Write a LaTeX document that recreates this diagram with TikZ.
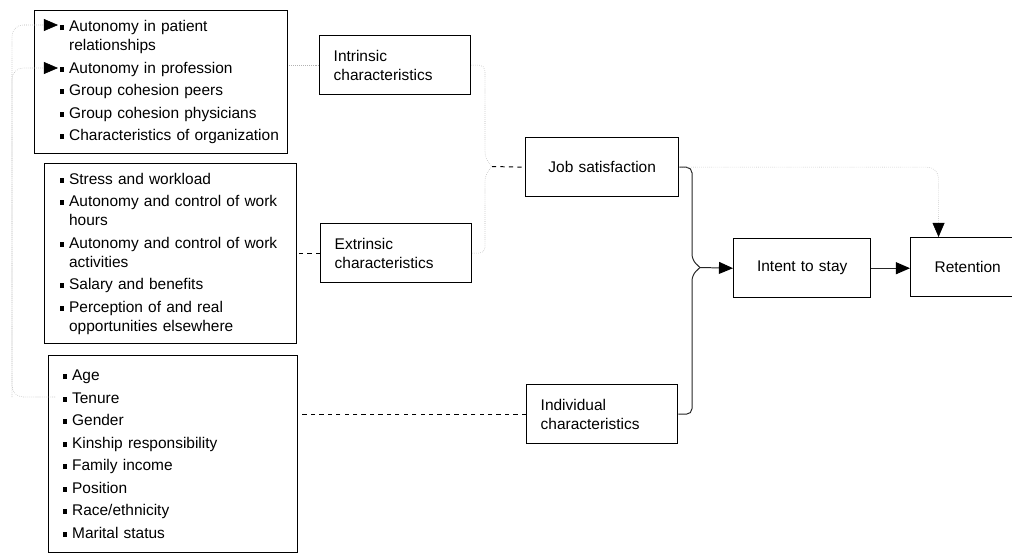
\documentclass[tikz,border=0pt]{standalone}
\usepackage{fontspec}
\setmainfont{Liberation Sans}
\usetikzlibrary{shapes,arrows.meta,positioning}
\newcommand\lbul{\rule[1.2pt]{3.4pt}{3.4pt}\hspace{3.3pt}}
\newcommand\lcont{\hspace*{6.7pt}}

\begin{document}
\begin{tikzpicture}[x=0.025cm, y=-0.025cm,
every node/.style = {shape = rectangle, draw, line width=1pt, anchor=north west, font=\fontsize{11pt}{13.5pt}\selectfont},
list box/.style = {align=left, inner xsep=0.1cm},
factor box/.style = {align=left, inner xsep=0.35cm, text width=3.075cm, minimum height=1.475cm},
result box/.style = {align=center, inner xsep=0.25cm, minimum height=1.475cm},
faint edge/.style = {-, thin, gray!60, densely dotted},
dash edge/.style = {-, line width=0.7pt, dashed},
dark edge/.style = {-, line width=0.7pt, black!85},
tip/.style = {-{Triangle[length=10pt, width=8.5pt, color=black]}}]
\useasboundingbox (0,0) rectangle (1012,554);
\node[list box, text width=6.125cm, minimum height=3.575cm] (0;1) at (34,10) {\leftskip=0.525cm
\lbul Autonomy in patient\\ \lcont relationships\\[2.5pt]
\lbul Autonomy in profession\\[2.5pt]
\lbul Group cohesion peers\\[2.5pt]
\lbul Group cohesion physicians\\[2.5pt]
\lbul Characteristics of organization\par};
  \node[list box, text width=6.1cm, minimum height=4.5cm] (0;0) at (44,163) {\leftskip=0.275cm
\lbul Stress and workload\\[2.5pt]
\lbul Autonomy and control of work\\ \lcont hours\\[2.5pt]
\lbul Autonomy and control of work\\ \lcont activities\\[2.5pt]
\lbul Salary and benefits\\[2.5pt]
\lbul Perception of and real\\ \lcont opportunities elsewhere\par};
  \node[list box, text width=6.025cm, minimum height=4.925cm] (0;-1) at (48,355) {\leftskip=0.25cm
\lbul Age\\[2.5pt]
\lbul Tenure\\[2.5pt]
\lbul Gender\\[2.5pt]
\lbul Kinship responsibility\\[2.5pt]
\lbul Family income\\[2.5pt]
\lbul Position\\[2.5pt]
\lbul Race/ethnicity\\[2.5pt]
\lbul Marital status\par};
     \node[factor box] (1;1) at (319,35) {Intrinsic\\characteristics};
     \node[factor box] (1;0) at (320,223) {Extrinsic\\characteristics};
     \node[factor box] (1;-1) at (526,384) {Individual\\characteristics};
        \node[result box, text width=3.325cm] (2;1) at (525,137) {Job satisfaction};
          \node[result box, text width=2.925cm] (3;0) at (733,238) {Intent to stay};
            \node[result box, text width=2.35cm] (4;0) at (910,237) {Retention};
\coordinate (b;1) at (492,166.5);
\coordinate (b;2) at (700,267.5);
\coordinate (a;1) at (58,25);
\coordinate (a;2) at (58,68);
\coordinate (t;0) at (55,397);
\coordinate (l;0) at (12,0);
\draw[faint edge] (1;1.west) -- (1;1.west -| 0;1.east);
\foreach \j in {0,-1}
  { \draw[dash edge] (1;\j.west) -- (1;\j.west -| 0;\j.east); }
\foreach \j/\y in {1/158,0/175}
  { \draw[faint edge, rounded corners=4pt] (1;\j.east) -| (485,\y) -- (b;1); }
\draw[dash edge] (b;1) -- (2;1.west);
\draw[dark edge, rounded corners=4pt] (2;1.east) -| (692,260) -- (b;2);
\draw[dark edge, rounded corners=4pt] (1;-1.east) -| (692,275) -- (b;2);
\draw[dark edge, tip] (b;2) -- (3;0.west);
\draw[dark edge, tip] (3;0.east) -- (3;0.east -| 4;0.west);
\draw[faint edge, tip, rounded corners=8pt] (2;1.east) -| (4;0.134);
\draw[faint edge, tip, rounded corners=8pt] (t;0) -| (l;0 |- a;1) -- (a;1);
\draw[faint edge, tip, rounded corners=8pt] (l;0 |- t;0) |- (a;2);
\end{tikzpicture}
\end{document}
